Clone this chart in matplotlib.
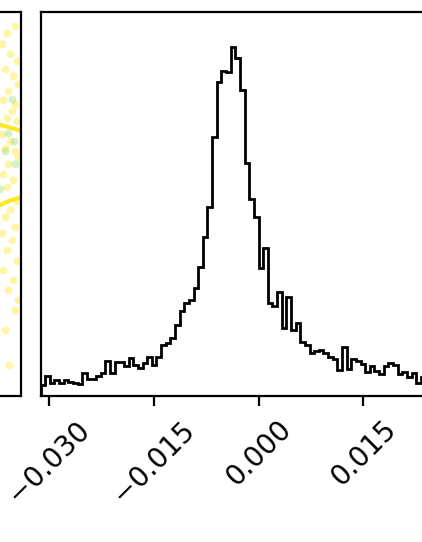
import matplotlib
matplotlib.use("Agg")
import numpy as np
import matplotlib.pyplot as plt

# histogramme marginal (comptes par case)
x_min, x_max = -0.03126, 0.0239
counts = [11, 20, 13, 16, 13, 16, 14, 13, 12, 23,
          17, 17, 20, 23, 35, 23, 34, 34, 30, 38,
          31, 28, 33, 39, 31, 39, 51, 53, 58, 71,
          85, 93, 96, 108, 129, 159, 189, 259, 314, 325,
          324, 349, 338, 306, 233, 197, 179, 128, 148, 93,
          90, 104, 68, 99, 66, 73, 54, 51, 43, 45,
          46, 43, 39, 37, 26, 49, 27, 37, 35, 32,
          24, 30, 25, 22, 30, 33, 31, 22, 24, 19,
          23, 13, 19]
tick_values = [-0.030, -0.015, 0.000, 0.015]

# panneau 2D voisin (seulement le bord droit est visible)
pts_x = [23.0, 21.9, 21.2, 22.3, 23.3, 21.6, 22.8, 23.5, 22.0, 21.3,
         23.0, 22.6, 21.9, 23.3, 21.2, 22.3, 21.6, 23.0, 23.5, 22.0,
         21.3, 22.8, 21.9, 23.3, 22.3, 21.6, 23.0, 21.2, 22.6, 21.9,
         23.3, 21.3, 22.8, 22.0, 23.5, 23.0, 21.6, 22.2]
pts_y = [0.0219, 0.0209, 0.0193, 0.0179, 0.0169, 0.0157, 0.0147, 0.0136, 0.0126, 0.0112,
         0.0107, 0.0097, 0.0087, 0.0083, 0.0064, 0.0054, 0.0044, 0.0040, 0.0030, 0.0021,
         0.0007, -0.0003, -0.0013, -0.0032, -0.0046, -0.0056, -0.0070, -0.0079, -0.0089, -0.0103,
         -0.0118, -0.0132, -0.0146, -0.0161, -0.0175, -0.0189, -0.0218, -0.0268]
green_x = [22.6, 21.6, 23.0, 20.9, 22.0, 22.9]
green_y = [0.0114, 0.0039, 0.0020, -0.0015, 0.0065, 0.0053]
arc1_x = [20.5, 21.6, 22.3, 23.0, 23.9, 24.5]
arc1_y = [0.0078, 0.0075, 0.0073, 0.0071, 0.0068, 0.0066]
arc2_x = [20.5, 21.6, 22.3, 23.0, 23.9, 24.5]
arc2_y = [-0.0040, -0.0035, -0.0032, -0.0030, -0.0027, -0.0025]

fig = plt.figure(figsize=(2.11, 2.71), dpi=200)
W, H = 422.0, 542.0

# axe principal : histogramme
ax = fig.add_axes([40.5 / W, (542 - 396) / H, 385 / W, 384 / H])
edges = np.linspace(x_min, x_max, len(counts) + 1)
ax.stairs(counts, edges, color="k", linewidth=1.0)
ax.set_xlim(x_min, x_max)
ax.set_ylim(0, 1.1 * max(counts))
ax.set_yticks([])
ax.set_xticks(tick_values)
for lab in ax.get_xticklabels():
    lab.set_rotation(45)
    lab.set_fontsize(10)

# axe de gauche (coupé)
ax2 = fig.add_axes([(21 - 384) / W, (542 - 396) / H, 384 / W, 384 / H])
ax2.scatter(np.array(pts_x) * 1e-3, pts_y, s=8, color="#fde725", alpha=0.4, linewidths=0)
ax2.scatter(np.array(green_x) * 1e-3, green_y, s=8, color="#7ad151", alpha=0.3, linewidths=0)
ax2.plot(np.array(arc1_x) * 1e-3, arc1_y, color="#fde725", lw=1.5)
ax2.plot(np.array(arc2_x) * 1e-3, arc2_y, color="#fde725", lw=1.5)
ax2.set_xlim(x_min, x_max)
ax2.set_ylim(x_min, x_max)
ax2.set_xticks([])
ax2.set_yticks([])

fig.savefig("out.png", dpi=200)
